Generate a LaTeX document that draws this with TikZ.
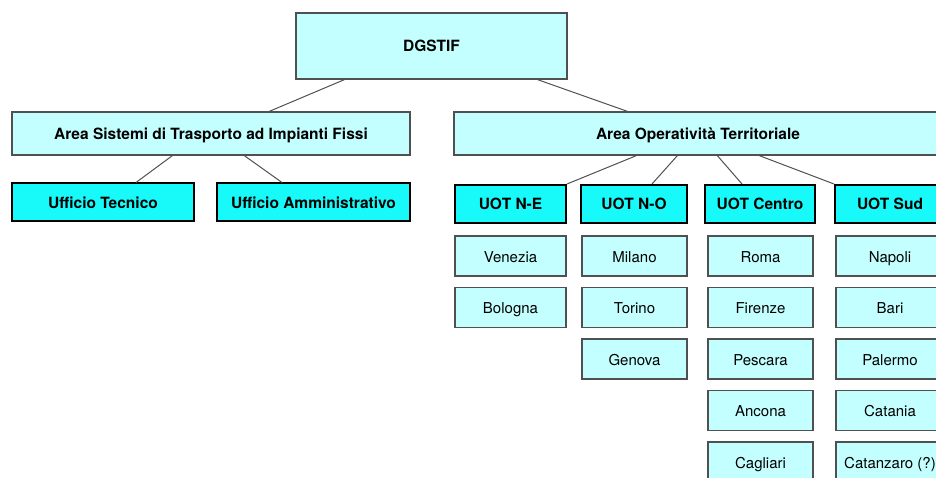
\documentclass[tikz,border=0pt]{standalone}
\usepackage{fontspec}
\setmainfont{TeX Gyre Heros}
\usepackage{tikz}

\definecolor{chiaro}{RGB}{196,255,255}
\definecolor{ciano}{RGB}{24,250,250}
\definecolor{bordo}{RGB}{80,80,80}

\begin{document}
\begin{tikzpicture}[x=1pt,y=-1pt,
        area/.style={draw=bordo, line width=1.3pt, fill=chiaro, inner sep=0pt,
                text height=12pt, text depth=0pt,
                font=\fontsize{15.5}{18}\selectfont\bfseries},
        ufficio/.style={draw=black, line width=2pt, fill=ciano, inner sep=0pt,
                text height=12pt, text depth=0pt,
                minimum height=38pt, font=\fontsize{15.5}{18}\selectfont\bfseries},
        sede/.style={draw=bordo, line width=1.3pt, fill=chiaro, inner sep=0pt,
                text height=12pt, text depth=0pt,
                minimum height=40pt, font=\fontsize{15}{18}\selectfont},
        ramo/.style={draw=bordo, line width=1pt}]
        \path[use as bounding box, clip] (0,0) rectangle (936,478);
        % vertice e aree
        \node[area, minimum width=271pt, minimum height=66pt] (dg) at (431.5,46) {DGSTIF};
        \node[area, minimum width=398pt, minimum height=43pt] (ast) at (211,133.5) {Area Sistemi di Trasporto ad Impianti Fissi};
        \node[area, minimum width=488pt, minimum height=43pt] (aot) at (698,133.5) {Area Operatività Territoriale};
        % uffici
        \node[ufficio, minimum width=182pt] (ut) at (103,202.5) {Ufficio Tecnico};
        \node[ufficio, minimum width=193pt] (ua) at (313.5,202.5) {Ufficio Amministrativo};
        \node[ufficio, minimum width=111pt] (ne) at (510.5,204) {UOT N-E};
        \node[ufficio, minimum width=106pt] (no) at (634,204) {UOT N-O};
        \node[ufficio, minimum width=110pt] (ce) at (760,204) {UOT Centro};
        \node[ufficio, minimum width=110pt] (sud) at (890,204) {UOT Sud};
        % sedi
        \foreach \citta [count=\i] in {Venezia,Bologna}
                \node[sede, minimum width=111pt] (ne\i) at (510.5,{256+51.5*(\i-1)}) {\citta};
        \foreach \citta [count=\i] in {Milano,Torino,Genova}
                \node[sede, minimum width=105pt] (no\i) at (634.5,{256+51.5*(\i-1)}) {\citta};
        \foreach \citta [count=\i] in {Roma,Firenze,Pescara,Ancona,Cagliari}
                \node[sede, minimum width=105pt] (ce\i) at (760.5,{256+51.5*(\i-1)}) {\citta};
        \foreach \citta [count=\i] in {Napoli,Bari,Palermo,Catania,Catanzaro (?)}
                \node[sede, minimum width=108pt] (sud\i) at (890,{256+51.5*(\i-1)}) {\citta};
        % collegamenti
        \draw[ramo] ([xshift=49pt]dg.south west) -- ([xshift=258pt]ast.north west);
        \draw[ramo] ([xshift=-30pt]dg.south east) -- ([xshift=174pt]aot.north west);
        \draw[ramo] ([xshift=161pt]ast.south west) -- ([xshift=125pt]ut.north west);
        \draw[ramo] ([xshift=233pt]ast.south west) -- ([xshift=66pt]ua.north west);
        \draw[ramo] ([xshift=183pt]aot.south west) -- (ne.north east);
        \draw[ramo] ([xshift=224pt]aot.south west) -- ([xshift=72pt]no.north west);
        \draw[ramo] ([xshift=264pt]aot.south west) -- ([xshift=38pt]ce.north west);
        \draw[ramo] ([xshift=306pt]aot.south west) -- (sud.north west);
\end{tikzpicture}
\end{document}
